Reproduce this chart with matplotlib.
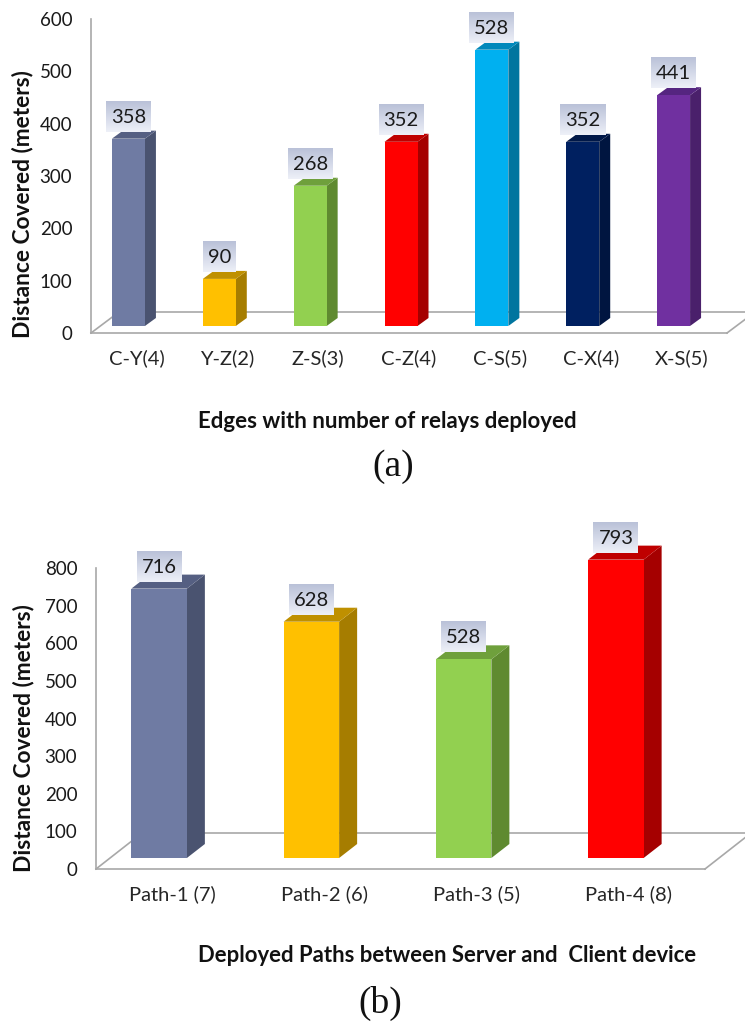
import matplotlib
matplotlib.use("Agg")
import matplotlib.pyplot as plt
import numpy as np
from matplotlib.patches import Polygon, Rectangle

plt.rcParams["font.family"] = ["Lato", "DejaVu Sans"]

W, H = 745, 1023

edges = ["C-Y(4)", "Y-Z(2)", "Z-S(3)", "C-Z(4)", "C-S(5)", "C-X(4)", "X-S(5)"]
edge_dist = [358, 90, 268, 352, 528, 352, 441]
edge_ticks = [0, 100, 200, 300, 400, 500, 600]

paths = ["Path-1 (7)", "Path-2 (6)", "Path-3 (5)", "Path-4 (8)"]
path_dist = [716, 628, 528, 793]
path_ticks = [0, 100, 200, 300, 400, 500, 600, 700, 800]

# front, side, top
colors = [
    ("#6F7BA3", "#4A5370", "#555F82"),
    ("#FFC000", "#A67D00", "#BF9000"),
    ("#92D050", "#5F8A30", "#6FA03C"),
    ("#FF0000", "#A50000", "#BF0000"),
    ("#00B0F0", "#00759F", "#0088BB"),
    ("#002060", "#001540", "#001848"),
    ("#7030A0", "#4A206B", "#552580"),
]
GRAY = "#A8A8A8"
gradient = np.linspace(1, 0, 32).reshape(-1, 1, 1) * np.array([[[0.73, 0.76, 0.85]]]) + \
    np.linspace(0, 1, 32).reshape(-1, 1, 1) * np.array([[[0.93, 0.94, 0.97]]])

fig = plt.figure(figsize=(W / 100, H / 100), dpi=100)


def fig_text(x, y, s, **kw):
    return fig.text(x / W, 1 - y / H, s, ha="center", va="center", **kw)


def bar_chart(left, right, top, bottom, cats, vals, ticks, bar_w, depth, lift, shift,
              floor, box_w):
    ax = fig.add_axes([left / W, 1 - bottom / H, (right - left) / W, (bottom - top) / H])
    n = len(cats)
    ax.set_xlim(-0.5, n - 0.5)
    ax.set_ylim(ticks[0], ticks[-1])
    sx = n / (right - left)  # data units per pixel
    sy = ticks[-1] / (bottom - top)
    ax.patch.set_alpha(0)

    # floor of the fake 3d plot
    fdx, fdy = floor
    ax.plot([-0.5, -0.5 + fdx * sx, n - 0.5 + fdx * sx, n - 0.5],
            [0, fdy * sy, fdy * sy, 0], color=GRAY, lw=1.2, clip_on=False, zorder=1)

    dx, dy = depth
    for i, v in enumerate(vals):
        x0 = i - bar_w * sx / 2 + shift * sx
        x1 = x0 + bar_w * sx
        y0 = lift * sy
        y1 = y0 + v
        front, side, cap = colors[i]
        ax.add_patch(Polygon([(x1, y0), (x1 + dx * sx, y0 + dy * sy), (x1 + dx * sx, y1 + dy * sy), (x1, y1)],
                             fc=side, ec="none", clip_on=False, zorder=3))
        ax.add_patch(Polygon([(x0, y1), (x1, y1), (x1 + dx * sx, y1 + dy * sy), (x0 + dx * sx, y1 + dy * sy)],
                             fc=cap, ec="none", clip_on=False, zorder=3))
        ax.add_patch(Rectangle((x0, y0), x1 - x0, v, fc=front, ec="none", clip_on=False, zorder=4))

        # value label on a gradient box
        cx = (x0 + x1) / 2
        w = box_w if v >= 100 else box_w - 12
        by0 = y1 + 7 * sy
        by1 = by0 + 31 * sy
        ax.imshow(gradient, extent=(cx - w * sx / 2, cx + w * sx / 2, by0, by1), aspect="auto",
                  origin="upper", interpolation="bilinear", clip_on=False, zorder=5)
        ax.text(cx, (by0 + by1) / 2 - 1 * sy, str(v), ha="center", va="center", fontsize=14.5,
                color="#1A1A1A", zorder=6)

    ax.set_xlim(-0.5, n - 0.5)
    ax.set_ylim(ticks[0], ticks[-1])
    ax.set_xticks(range(n), cats, fontsize=14.5, color="#262626")
    ax.set_yticks(ticks, [str(t) for t in ticks], fontsize=13.5, color="#1A1A1A")
    ax.tick_params(axis="x", length=0, pad=11.5)
    ax.tick_params(axis="y", length=0, pad=13.5)
    for s in ["top", "right"]:
        ax.spines[s].set_visible(False)
    for s in ["left", "bottom"]:
        ax.spines[s].set_color(GRAY)
        ax.spines[s].set_linewidth(1.2)
    return ax


bar_chart(91, 727, 19, 333, edges, edge_dist, edge_ticks, 33, (11, 8), 7, -8, (28, 21), 45)
bar_chart(96, 705, 568, 869, paths, path_dist, path_ticks, 55.5, (18, 14), 11, -13, (46, 36), 45)

fig_text(23, 204, "Distance Covered (meters)", rotation=90, fontsize=16.4, fontweight="bold", color="#111111")
fig_text(24, 738, "Distance Covered (meters)", rotation=90, fontsize=16.4, fontweight="bold", color="#111111")
fig_text(387, 421, "Edges with number of relays deployed", fontsize=16, fontweight="bold", color="#111111")
fig_text(447, 956, "Deployed Paths between Server and  Client device", fontsize=15.9, fontweight="bold", color="#111111")
fig_text(393, 467, "(a)", family="Liberation Serif", fontsize=27, color="#111111")
fig_text(380, 1003, "(b)", family="Liberation Serif", fontsize=27, color="#111111")

fig.savefig("out.png", dpi=100)
